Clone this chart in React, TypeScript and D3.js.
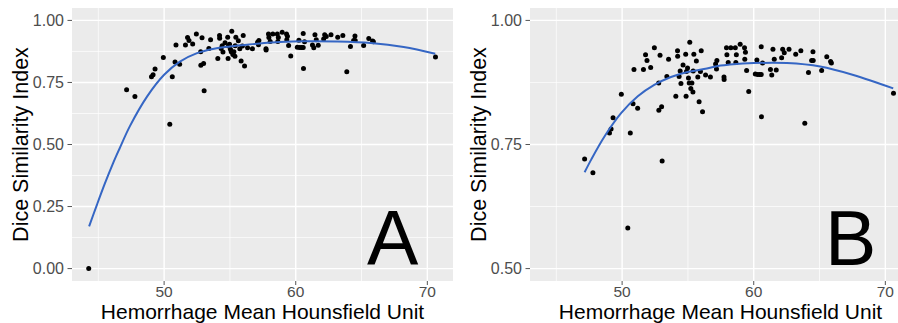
import React from "react";
import * as d3 from "d3";

// Data: hemorrhage mean HU vs Dice similarity index
const hu = [
  47.15, 47.78, 50.43, 49.04, 49.16, 49.31, 49.94, 50.62, 50.83, 51.18,
  50.9, 51.62, 51.78, 51.89, 52.17, 52.45, 52.78, 52.88, 52.79, 53.0,
  53.04, 53.4, 53.53, 54.08, 54.21, 54.22, 54.41, 54.33, 54.47, 54.63,
  54.83, 54.89, 54.86, 54.97, 55.04, 55.14, 55.1, 55.22, 55.3, 55.38,
  55.45, 55.4, 55.64, 55.75, 55.85, 56.01, 55.95, 56.11, 56.34, 56.71,
  57.1, 57.17, 57.2, 57.74, 57.75, 57.93, 57.96, 58.06, 58.26, 58.6,
  58.68, 58.64, 58.97, 59.3, 59.37, 59.32, 59.46, 59.62, 60.12, 60.24,
  60.3, 60.45, 60.57, 60.57, 60.67, 60.59, 61.27, 61.37, 61.46, 61.56,
  61.71, 62.12, 62.2, 62.32, 62.68, 63.19, 63.58, 63.88, 64.16, 64.4,
  64.5, 64.52, 65.16, 65.55, 65.84, 65.9, 70.62, 44.27,
];
const dsi = [
  0.721, 0.693, 0.582, 0.773, 0.781, 0.804, 0.851, 0.773, 0.832, 0.823,
  0.901, 0.901, 0.931, 0.919, 0.905, 0.945, 0.874, 0.93, 0.819, 0.826,
  0.717, 0.887, 0.922, 0.847, 0.939, 0.928, 0.898, 0.887, 0.873, 0.91,
  0.932, 0.897, 0.847, 0.904, 0.884, 0.956, 0.874, 0.863, 0.874, 0.856,
  0.932, 0.898, 0.918, 0.886, 0.836, 0.939, 0.897, 0.816, 0.89, 0.886,
  0.912, 0.902, 0.919, 0.886, 0.881, 0.945, 0.931, 0.915, 0.945, 0.945,
  0.931, 0.915, 0.952, 0.945, 0.936, 0.922, 0.899, 0.857, 0.892, 0.92,
  0.891, 0.891, 0.947, 0.891, 0.914, 0.806, 0.901, 0.89, 0.942, 0.922,
  0.9, 0.925, 0.942, 0.935, 0.942, 0.932, 0.939, 0.793, 0.895, 0.919,
  0.937, 0.919, 0.899, 0.927, 0.917, 0.914, 0.853, 0.0,
];

// Smoothed fit (panel A: all cases)
const fitAx = [44.3, 44.9, 45.5, 46.1, 46.6, 47.4, 48.7, 50.0, 51.2, 52.5, 53.8, 55.0, 56.3, 57.6, 58.8, 60.6, 63.1, 65.7, 68.2, 70.6];
const fitAy = [0.170, 0.258, 0.343, 0.422, 0.482, 0.574, 0.693, 0.781, 0.834, 0.868, 0.886, 0.895, 0.902, 0.909, 0.913, 0.916, 0.915, 0.909, 0.893, 0.866];
// Smoothed fit (panel B: outlier excluded)
const fitBx = [47.15, 47.66, 48.66, 49.92, 51.19, 52.44, 53.71, 54.97, 56.22, 57.49, 58.19, 60.0, 62.53, 65.05, 67.57, 70.6];
const fitBy = [0.694, 0.720, 0.766, 0.813, 0.847, 0.870, 0.886, 0.896, 0.902, 0.909, 0.911, 0.914, 0.914, 0.907, 0.890, 0.863];

const xTicks = [50, 60, 70];
const xMinor = [45, 55, 65];
const yTicksA = [0, 0.25, 0.5, 0.75, 1.0];
const yMinorA = [0.125, 0.375, 0.625, 0.875];
const yTicksB = [0.5, 0.75, 1.0];
const yMinorB = [0.625, 0.875];

const FONT = "'Liberation Sans', Arial, Helvetica, sans-serif";

type PanelProps = {
  left: number;
  letter: string;
  yDomain: [number, number];
  yTicks: number[];
  yMinor: number[];
  points: { x: number; y: number }[];
  fitX: number[];
  fitY: number[];
  clipId: string;
};

const TOP = 8;
const BOTTOM = 281;
const WIDTH = 381;

function Panel({ left, letter, yDomain, yTicks, yMinor, points, fitX, fitY, clipId }: PanelProps) {
  const right = left + WIDTH;
  const x = d3.scaleLinear().domain([43.0, 71.95]).range([left, right]);
  const y = d3.scaleLinear().domain(yDomain).range([BOTTOM, TOP]);
  const fit = fitX.map((v, i) => ({ x: v, y: fitY[i] }));
  const line = d3
    .line<{ x: number; y: number }>()
    .x((d) => x(d.x))
    .y((d) => y(d.y))
    .curve(d3.curveCatmullRom.alpha(0.5));
  const cy = (TOP + BOTTOM) / 2;
  return (
    <g>
      <defs>
        <clipPath id={clipId}>
          <rect x={left} y={TOP} width={WIDTH} height={BOTTOM - TOP} />
        </clipPath>
      </defs>
      <rect x={left} y={TOP} width={WIDTH} height={BOTTOM - TOP} fill="#EBEBEB" />
      <g clipPath={`url(#${clipId})`}>
        {yMinor.map((t) => (
          <line key={"ym" + t} x1={left} x2={right} y1={y(t)} y2={y(t)} stroke="#fff" strokeWidth={0.7} />
        ))}
        {xMinor.map((t) => (
          <line key={"xm" + t} x1={x(t)} x2={x(t)} y1={TOP} y2={BOTTOM} stroke="#fff" strokeWidth={0.7} />
        ))}
        {yTicks.map((t) => (
          <line key={"yM" + t} x1={left} x2={right} y1={y(t)} y2={y(t)} stroke="#fff" strokeWidth={1.4} />
        ))}
        {xTicks.map((t) => (
          <line key={"xM" + t} x1={x(t)} x2={x(t)} y1={TOP} y2={BOTTOM} stroke="#fff" strokeWidth={1.4} />
        ))}
        {points.map((p, i) => (
          <circle key={i} cx={x(p.x)} cy={y(p.y)} r={2.5} fill="#000" />
        ))}
        <path d={line(fit) || ""} fill="none" stroke="#3566C4" strokeWidth={2} />
        <text x={right - 86} y={265} fontFamily={FONT} fontSize={77} fill="#000">
          {letter}
        </text>
      </g>
      {yTicks.map((t) => (
        <g key={"yt" + t}>
          <line x1={left - 4.5} x2={left} y1={y(t)} y2={y(t)} stroke="#555" strokeWidth={1} />
          <text x={left - 8} y={y(t)} dy="0.36em" textAnchor="end" fontFamily={FONT} fontSize={16} fill="#4D4D4D">
            {t.toFixed(2)}
          </text>
        </g>
      ))}
      {xTicks.map((t) => (
        <g key={"xt" + t}>
          <line x1={x(t)} x2={x(t)} y1={BOTTOM} y2={BOTTOM + 4} stroke="#555" strokeWidth={1} />
          <text x={x(t)} y={296.5} textAnchor="middle" fontFamily={FONT} fontSize={15.5} fill="#4D4D4D">
            {t}
          </text>
        </g>
      ))}
      <text x={(left + right) / 2} y={319} textAnchor="middle" fontFamily={FONT} fontSize={21} fill="#000">
        Hemorrhage Mean Hounsfield Unit
      </text>
      <text
        transform={`translate(${left - 44},${cy}) rotate(-90)`}
        textAnchor="middle"
        fontFamily={FONT}
        fontSize={21.5}
        fill="#000"
      >
        Dice Similarity Index
      </text>
    </g>
  );
}

export default function App() {
  const all = hu.map((v, i) => ({ x: v, y: dsi[i] }));
  const withoutOutlier = all.filter((p) => p.y > 0.4);
  return (
    <div style={{ position: "fixed", left: 0, top: 0 }}>
      <svg width={898} height={323} style={{ display: "block", background: "#fff" }}>
        <Panel
          left={72}
          letter="A"
          yDomain={[-0.05, 1.05]}
          yTicks={yTicksA}
          yMinor={yMinorA}
          points={all}
          fitX={fitAx}
          fitY={fitAy}
          clipId="clipA"
        />
        <Panel
          left={530}
          letter="B"
          yDomain={[0.475, 1.025]}
          yTicks={yTicksB}
          yMinor={yMinorB}
          points={withoutOutlier}
          fitX={fitBx}
          fitY={fitBy}
          clipId="clipB"
        />
      </svg>
    </div>
  );
}
